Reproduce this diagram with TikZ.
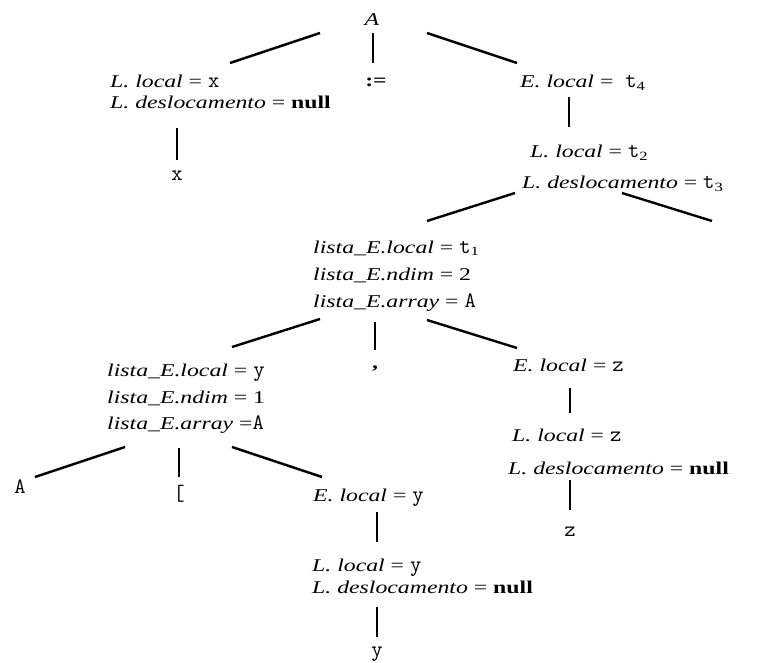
\documentclass[tikz,border=0pt]{standalone}
\usepackage{fontspec}
\setmainfont{Liberation Serif}[FakeStretch=1.32]
\usepackage{tikz}
\usetikzlibrary{positioning}
\newcommand{\valor}[1]{{\fontsize{22}{22}\selectfont\ttfamily #1}}

\begin{document}
\begin{tikzpicture}[x=1pt, y=-1pt,
  txt/.style={anchor=base west, inner sep=0pt, font=\fontsize{18}{21}\selectfont},
  sym/.style={anchor=base, inner sep=0pt, font=\fontsize{18}{21}\selectfont},
  ramo/.style={line width=2.4pt}]
  \useasboundingbox (0,0) rectangle (763,663);
  % raiz
  \node[sym] (a) at (372,26) {\textit{A}};
  \node[txt] (lx1) at (110,88) {\textit{L. local} = \valor{x}};
  \node[txt] (lx2) at (110,109) {\textit{L. deslocamento} = \textbf{null}};
  \node[sym] (asg) at (376,87) {\textbf{:=}};
  \node[txt] (et) at (520,88) {\textit{E. local} = \ \valor{t}\textsubscript{4}};
  \node[sym] (xv) at (177,181) {\valor{x}};
  \node[txt] (lt1) at (530,158) {\textit{L. local} = \valor{t}\textsubscript{2}};
  \node[txt] (lt2) at (522,189) {\textit{L. deslocamento} = \valor{t}\textsubscript{3}};
  \node[sym] (rb) at (771,242) {\valor{]}};
  % lista_E de cima
  \node[txt] (le1) at (313,253) {\textit{lista\_E.local} = \valor{t}\textsubscript{1}};
  \node[txt] (le2) at (313,280) {\textit{lista\_E.ndim} = 2};
  \node[txt] (le3) at (313,307) {\textit{lista\_E.array} = \valor{A}};
  \node[sym] (cm) at (375,368) {\textbf{,}};
  \node[txt] (ez) at (513,371) {\textit{E. local} = \valor{z}};
  \node[txt] (lz1) at (512,441) {\textit{L. local} = \valor{z}};
  \node[txt] (lz2) at (508,474) {\textit{L. deslocamento} = \textbf{null}};
  \node[sym] (zv) at (570,536) {\valor{z}};
  % lista_E de baixo
  \node[txt] (lf1) at (107,376) {\textit{lista\_E.local} = \valor{y}};
  \node[txt] (lf2) at (107,403) {\textit{lista\_E.ndim} = 1};
  \node[txt] (lf3) at (107,429) {\textit{lista\_E.array} =\valor{A}};
  \node[sym] (av) at (20,493) {\valor{A}};
  \node[sym] (br) at (179,500) {\valor{[}};
  \node[txt] (ey) at (313,501) {\textit{E. local} = \valor{y}};
  \node[txt] (ly1) at (312,571) {\textit{L. local} = \valor{y}};
  \node[txt] (ly2) at (312,593) {\textit{L. deslocamento} = \textbf{null}};
  \node[sym] (yv) at (377,656) {\valor{y}};
  % ramos
  \draw[ramo] ([shift={(-52,7)}]a.base) -- ([shift={(120,-25)}]lx1.base west);
  \draw[ramo] ([shift={(1,7)}]a.base) -- ([shift={(-3,-24)}]asg.base);
  \draw[ramo] ([shift={(55,7)}]a.base) -- ([shift={(-3,-25)}]et.base west);
  \draw[ramo] ([shift={(67,19)}]lx2.base west) -- ([shift={(0,-21)}]xv.base);
  \draw[ramo] ([shift={(49,9)}]et.base west) -- ([shift={(39,-31)}]lt1.base west);
  \draw[ramo] ([shift={(-7,4)}]lt2.base west) -- ([shift={(114,-32)}]le1.base west);
  \draw[ramo] ([shift={(100,4)}]lt2.base west) -- ([shift={(-59,-21)}]rb.base);
  \draw[ramo] ([shift={(7,12)}]le3.base west) -- ([shift={(125,-29)}]lf1.base west);
  \draw[ramo] ([shift={(62,15)}]le3.base west) -- ([shift={(0,-18)}]cm.base);
  \draw[ramo] ([shift={(114,13)}]le3.base west) -- ([shift={(4,-23)}]ez.base west);
  \draw[ramo] ([shift={(57,17)}]ez.base west) -- ([shift={(58,-28)}]lz1.base west);
  \draw[ramo] ([shift={(62,6)}]lz2.base west) -- ([shift={(0,-26)}]zv.base);
  \draw[ramo] ([shift={(18,18)}]lf3.base west) -- ([shift={(15,-16)}]av.base);
  \draw[ramo] ([shift={(72,19)}]lf3.base west) -- ([shift={(0,-23)}]br.base);
  \draw[ramo] ([shift={(125,18)}]lf3.base west) -- ([shift={(9,-24)}]ey.base west);
  \draw[ramo] ([shift={(64,11)}]ey.base west) -- ([shift={(65,-29)}]ly1.base west);
  \draw[ramo] ([shift={(65,14)}]ly2.base west) -- ([shift={(0,-19)}]yv.base);
\end{tikzpicture}
\end{document}
